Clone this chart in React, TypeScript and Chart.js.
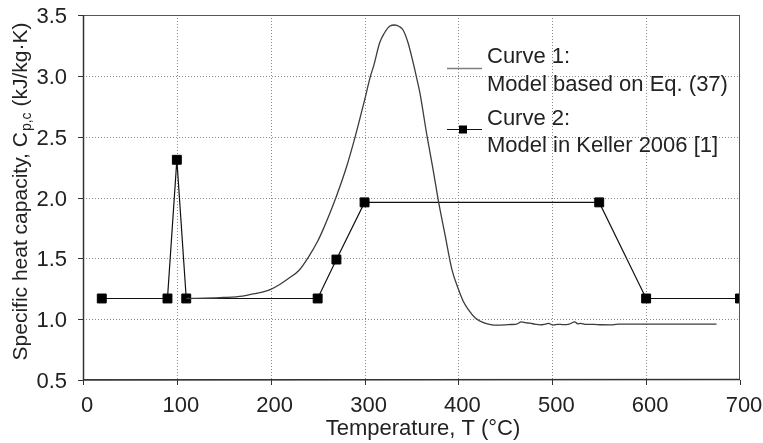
import React, { useEffect, useRef } from "react";
import { Chart, registerables } from "chart.js";

Chart.register(...registerables);

// ---- Data ----
const curve1T = [
  110, 130, 150, 170, 180, 190, 200, 210, 220, 230, 241, 250, 256, 263, 270, 281, 290, 300,
  306, 310, 316, 321, 327, 332, 337, 341, 346, 352, 355, 359, 366, 373, 379, 386, 393, 400,
  405, 410, 418, 426, 433, 441, 450, 456, 462, 467, 472, 476, 482, 487, 492, 496, 501, 506,
  512, 518, 524, 527, 530, 536, 544, 552, 562, 570, 675,
];
const curve1Cp = [
  1.17, 1.172, 1.178, 1.19, 1.205, 1.22, 1.245, 1.287, 1.34, 1.40, 1.52, 1.64, 1.74, 1.87,
  2.01, 2.257, 2.5, 2.8, 2.99, 3.09, 3.27, 3.35, 3.41, 3.418, 3.405, 3.377, 3.28, 3.1, 3.0,
  2.858, 2.53, 2.23, 1.957, 1.683, 1.41, 1.246, 1.15, 1.085, 1.01, 0.973, 0.958, 0.951, 0.953,
  0.956, 0.959, 0.978, 0.97, 0.967, 0.958, 0.953, 0.958, 0.965, 0.951, 0.958, 0.955, 0.96,
  0.978, 0.962, 0.966, 0.957, 0.958, 0.954, 0.953, 0.959, 0.959,
];
const curve2T = [20, 90, 100, 110, 250, 270, 300, 550, 600, 700];
const curve2Cp = [1.17, 1.17, 2.31, 1.17, 1.17, 1.49, 1.96, 1.96, 1.17, 1.17];

const xTicks = [0, 100, 200, 300, 400, 500, 600, 700];
const yTicks = [0.5, 1.0, 1.5, 2.0, 2.5, 3.0, 3.5];

const xTitle = "Temperature, T (°C)";
const yTitleMain = "Specific heat capacity, C";
const yTitleSub = "p,c";
const yTitleEnd = " (kJ/kg·K)";
const legendCurve1 = ["Curve 1:", "Model based on Eq. (37)"];
const legendCurve2 = ["Curve 2:", "Model in Keller 2006 [1]"];

const FONT = "'Liberation Sans', Arial, Helvetica, sans-serif";
const TEXT = "#222";

const zeroPad = (s: any) => {
  s.paddingLeft = 0;
  s.paddingRight = 0;
  s.paddingTop = 0;
  s.paddingBottom = 0;
};

const decorPlugin = {
  id: "decor",
  beforeDatasetsDraw(chart: any) {
    const { ctx, chartArea: a, scales } = chart;
    const x = scales.x;
    const y = scales.y;
    ctx.save();
    ctx.strokeStyle = "#8a8a8a";
    ctx.lineWidth = 1;
    ctx.setLineDash([1, 2]);
    for (const v of xTicks) {
      const px = Math.round(x.getPixelForValue(v)) + 0.5;
      if (px <= a.left + 1 || px >= a.right - 1) continue;
      ctx.beginPath();
      ctx.moveTo(px, a.top);
      ctx.lineTo(px, a.bottom);
      ctx.stroke();
    }
    for (const v of yTicks) {
      const py = Math.round(y.getPixelForValue(v)) + 0.5;
      if (py <= a.top + 1 || py >= a.bottom - 1) continue;
      ctx.beginPath();
      ctx.moveTo(a.left, py);
      ctx.lineTo(a.right, py);
      ctx.stroke();
    }
    ctx.restore();
  },
  afterDraw(chart: any) {
    const { ctx, chartArea: a, scales } = chart;
    const x = scales.x;
    const y = scales.y;
    ctx.save();
    // frame
    ctx.setLineDash([]);
    ctx.strokeStyle = "#555";
    ctx.lineWidth = 1;
    ctx.strokeRect(a.left + 0.5, a.top + 0.5, a.right - a.left - 1, a.bottom - a.top - 1);
    // axes (left / bottom heavier)
    ctx.strokeStyle = "#333";
    ctx.lineWidth = 1.5;
    ctx.beginPath();
    ctx.moveTo(a.left + 0.5, a.top);
    ctx.lineTo(a.left + 0.5, a.bottom);
    ctx.lineTo(a.right, a.bottom - 0.5);
    ctx.stroke();
    // tick marks
    ctx.lineWidth = 1;
    for (const v of xTicks) {
      const px = Math.round(x.getPixelForValue(v)) + 0.5;
      ctx.beginPath();
      ctx.moveTo(px, a.bottom);
      ctx.lineTo(px, a.bottom + 5);
      ctx.stroke();
    }
    for (const v of yTicks) {
      const py = Math.round(y.getPixelForValue(v)) + 0.5;
      ctx.beginPath();
      ctx.moveTo(a.left - 5, py);
      ctx.lineTo(a.left, py);
      ctx.stroke();
    }

    // legend
    ctx.fillStyle = TEXT;
    ctx.font = `22px ${FONT}`;
    ctx.textAlign = "left";
    ctx.textBaseline = "alphabetic";
    const lx = 487;
    ctx.fillText(legendCurve1[0], lx, 63);
    ctx.fillText(legendCurve1[1], lx, 91);
    ctx.fillText(legendCurve2[0], lx, 125);
    ctx.fillText(legendCurve2[1], lx, 152);
    ctx.strokeStyle = "#808080";
    ctx.lineWidth = 1.5;
    ctx.beginPath();
    ctx.moveTo(447, 68.5);
    ctx.lineTo(482, 68.5);
    ctx.stroke();
    ctx.strokeStyle = "#111";
    ctx.lineWidth = 1.2;
    ctx.beginPath();
    ctx.moveTo(447, 129.5);
    ctx.lineTo(482, 129.5);
    ctx.stroke();
    ctx.fillStyle = "#000";
    ctx.fillRect(459, 125.5, 8, 8);

    // x title
    ctx.fillStyle = TEXT;
    ctx.font = `22px ${FONT}`;
    ctx.textAlign = "center";
    ctx.textBaseline = "alphabetic";
    ctx.fillText(xTitle, 423, 435);

    // y title with subscript
    ctx.translate(27, 191.5);
    ctx.rotate(-Math.PI / 2);
    const mainFont = `21px ${FONT}`;
    const subFont = `14px ${FONT}`;
    ctx.font = mainFont;
    const w1 = ctx.measureText(yTitleMain).width;
    const w3 = ctx.measureText(yTitleEnd).width;
    ctx.font = subFont;
    const w2 = ctx.measureText(yTitleSub).width;
    const total = w1 + w2 + w3 + 1;
    let cx = -total / 2;
    ctx.textAlign = "left";
    ctx.font = mainFont;
    ctx.fillText(yTitleMain, cx, 0);
    cx += w1 + 1;
    ctx.font = subFont;
    ctx.fillText(yTitleSub, cx, 4);
    cx += w2;
    ctx.font = mainFont;
    ctx.fillText(yTitleEnd, cx, 0);
    ctx.restore();
  },
};

export default function App() {
  const ref = useRef<HTMLCanvasElement | null>(null);
  useEffect(() => {
    document.body.style.margin = "0";
    const canvas = ref.current;
    if (!canvas) return;
    const chart = new Chart(canvas, {
      type: "line",
      data: {
        datasets: [
          {
            label: legendCurve1.join(" "),
            data: curve1T.map((t, i) => ({ x: t, y: curve1Cp[i] })),
            borderColor: "#3c3c3c",
            borderWidth: 1.3,
            pointRadius: 0,
            cubicInterpolationMode: "monotone",
            fill: false,
          },
          {
            label: legendCurve2.join(" "),
            data: curve2T.map((t, i) => ({ x: t, y: curve2Cp[i] })),
            borderColor: "#111",
            borderWidth: 1.2,
            pointStyle: "rect",
            pointRadius: 6.3,
            pointBackgroundColor: "#000",
            pointBorderColor: "#000",
            pointBorderWidth: 1,
            tension: 0,
            fill: false,
          },
        ],
      },
      options: {
        responsive: false,
        animation: false,
        events: [],
        layout: { padding: { top: 15, right: 23, left: 0, bottom: 0 } },
        plugins: { legend: { display: false }, tooltip: { enabled: false }, title: { display: false } },
        scales: {
          x: {
            type: "linear",
            min: 0,
            max: 700,
            grid: { display: false },
            border: { display: false },
            afterBuildTicks: (s: any) => {
              s.ticks = xTicks.map((v) => ({ value: v }));
            },
            afterFit: (s: any) => {
              s.height = 63;
              zeroPad(s);
            },
            ticks: {
              padding: 5,
              labelOffset: 4,
              color: TEXT,
              font: { family: FONT, size: 22 },
              maxRotation: 0,
              autoSkip: false,
            },
          },
          y: {
            type: "linear",
            min: 0.5,
            max: 3.5,
            grid: { display: false },
            border: { display: false },
            afterBuildTicks: (s: any) => {
              s.ticks = yTicks.map((v) => ({ value: v }));
            },
            afterFit: (s: any) => {
              s.width = 83;
              zeroPad(s);
            },
            ticks: {
              padding: 8,
              labelOffset: 2,
              color: TEXT,
              font: { family: FONT, size: 22 },
              autoSkip: false,
              callback: (v: any) => Number(v).toFixed(1),
            },
          },
        },
      },
      plugins: [decorPlugin],
    });
    return () => chart.destroy();
  }, []);
  return (
    <div style={{ position: "absolute", left: 0, top: 0, width: 763, height: 443, background: "#fff" }}>
      <canvas ref={ref} width={763} height={443} style={{ width: 763, height: 443 }} />
    </div>
  );
}
